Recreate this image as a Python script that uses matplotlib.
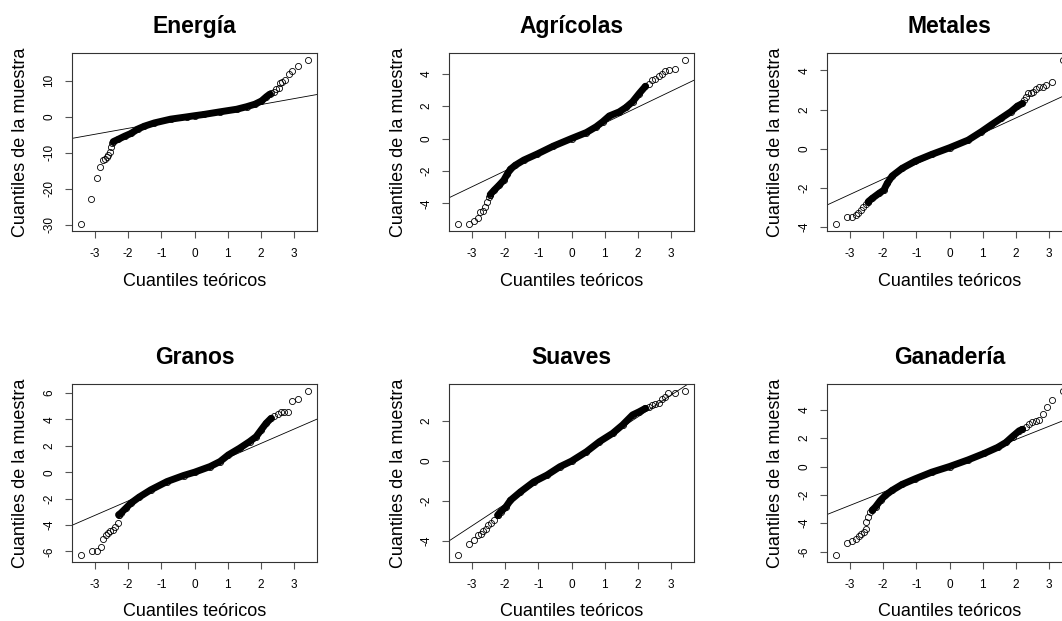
import matplotlib
matplotlib.use("Agg")
import matplotlib.pyplot as plt

plt.rcParams['font.family'] = ['Liberation Sans', 'DejaVu Sans']
plt.rcParams['axes.unicode_minus'] = False

titles = ["Energía", "Agrícolas", "Metales", "Granos", "Suaves", "Ganadería"]

# puntos sueltos de las colas (cuantil teorico, cuantil muestral)
energia_x = [-3.42, -3.11, -2.95, -2.85, -2.77, -2.70, -2.65, -2.60, -2.555, -2.515, -2.48,
             2.32, 2.39, 2.47, 2.54, 2.59, 2.64, 2.72, 2.84, 2.95, 3.12, 3.42]
energia_y = [-29.9, -22.9, -17.0, -13.9, -12.0, -11.8, -11.1, -10.6, -9.7, -8.3, -7.4,
             6.5, 6.9, 7.6, 8.1, 9.3, 9.7, 10.2, 12.0, 12.8, 14.1, 15.9]
agricolas_x = [-3.42, -3.10, -2.93, -2.81, -2.76, -2.66, -2.60, -2.55, -2.50, -2.45,
               2.33, 2.43, 2.53, 2.63, 2.73, 2.83, 2.95, 3.11, 3.42]
agricolas_y = [-5.29, -5.25, -5.09, -4.92, -4.51, -4.45, -4.2, -3.9, -3.59, -3.45,
               3.38, 3.59, 3.69, 3.84, 4.0, 4.16, 4.2, 4.27, 4.86]
metales_x = [-3.42, -3.09, -2.95, -2.83, -2.76, -2.68, -2.60, -2.53, -2.45,
             2.25, 2.30, 2.38, 2.45, 2.53, 2.61, 2.70, 2.81, 2.91, 3.09, 3.42]
metales_y = [-3.86, -3.47, -3.50, -3.38, -3.30, -3.13, -2.96, -2.84, -2.70,
             2.48, 2.65, 2.82, 2.87, 2.91, 3.03, 3.16, 3.16, 3.25, 3.42, 4.55]
granos_x = [-3.42, -3.10, -2.94, -2.82, -2.75, -2.67, -2.60, -2.54, -2.47, -2.39, -2.32, -2.29,
            2.41, 2.51, 2.61, 2.71, 2.83, 2.94, 3.11, 3.42]
granos_y = [-6.31, -5.96, -6.01, -5.68, -5.08, -4.75, -4.62, -4.49, -4.37, -4.12, -3.86, -3.23,
            4.27, 4.39, 4.55, 4.6, 4.6, 5.40, 5.56, 6.19]
suaves_x = [-3.42, -3.08, -2.93, -2.81, -2.73, -2.66, -2.58, -2.51, -2.43, -2.33, -2.23,
            2.33, 2.43, 2.53, 2.63, 2.73, 2.81, 2.91, 3.11, 3.42]
suaves_y = [-4.72, -4.16, -3.96, -3.71, -3.66, -3.49, -3.38, -3.21, -3.09, -2.96, -2.71,
            2.73, 2.81, 2.86, 2.89, 3.09, 3.23, 3.39, 3.43, 3.53]
ganaderia_x = [-3.42, -3.09, -2.93, -2.81, -2.73, -2.66, -2.58, -2.53, -2.51, -2.46, -2.40, -2.33,
               2.20, 2.30, 2.40, 2.50, 2.60, 2.70, 2.82, 2.93, 3.09, 3.42]
ganaderia_y = [-6.27, -5.36, -5.22, -5.13, -4.90, -4.76, -4.59, -4.43, -3.89, -3.54, -3.19, -3.08,
               2.63, 2.80, 2.98, 3.15, 3.22, 3.26, 3.68, 4.22, 4.69, 5.36]

# zona densa
energia_bx = [-2.45, -2.31, -2.11, -1.91, -1.71, -1.51, -1.21, -0.72, -0.22, 0.0, 0.28, 0.78, 1.27, 1.57, 1.82, 2.02, 2.17, 2.27]
energia_by = [-6.9, -6.3, -5.4, -4.6, -3.4, -2.6, -1.7, -0.65, 0.0, 0.3, 0.65, 1.4, 2.1, 2.8, 3.5, 4.4, 5.6, 6.3]
agricolas_bx = [-2.45, -2.33, -2.18, -2.04, -1.94, -1.84, -1.69, -1.44, -1.04, -0.55, 0.0, 0.45, 0.74, 0.94, 1.14, 1.44, 1.64, 1.84, 2.04, 2.23]
agricolas_by = [-3.45, -3.18, -2.87, -2.56, -2.2, -1.89, -1.64, -1.33, -0.96, -0.47, 0.0, 0.37, 0.72, 1.03, 1.39, 1.64, 1.91, 2.26, 2.77, 3.22]
metales_bx = [-2.45, -2.33, -2.13, -1.98, -1.88, -1.73, -1.43, -1.03, -0.54, 0.0, 0.56, 0.96, 1.25, 1.55, 1.85, 2.05, 2.2]
metales_by = [-2.70, -2.53, -2.28, -2.11, -1.77, -1.39, -1.0, -0.63, -0.29, 0.05, 0.44, 0.87, 1.21, 1.55, 1.89, 2.18, 2.31]
granos_bx = [-2.29, -2.22, -2.07, -1.92, -1.67, -1.32, -0.83, -0.33, 0.0, 0.47, 0.77, 1.02, 1.36, 1.66, 1.86, 2.01, 2.16, 2.31]
granos_by = [-3.23, -3.1, -2.73, -2.35, -1.89, -1.34, -0.71, -0.25, 0.0, 0.43, 0.81, 1.31, 1.82, 2.32, 2.7, 3.21, 3.71, 4.09]
suaves_bx = [-2.23, -2.14, -1.99, -1.84, -1.54, -1.14, -0.74, -0.35, 0.0, 0.45, 0.84, 1.24, 1.54, 1.84, 2.04, 2.23]
suaves_by = [-2.71, -2.54, -2.32, -1.96, -1.54, -1.04, -0.70, -0.28, 0.0, 0.47, 0.97, 1.39, 1.81, 2.31, 2.47, 2.64]
ganaderia_bx = [-2.33, -2.23, -2.08, -1.93, -1.73, -1.43, -1.03, -0.54, 0.0, 0.56, 1.05, 1.45, 1.70, 1.90, 2.10, 2.20]
ganaderia_by = [-3.08, -2.84, -2.38, -2.03, -1.68, -1.26, -0.86, -0.40, 0.0, 0.47, 0.93, 1.35, 1.70, 2.12, 2.52, 2.63]

# qqline: intercepto y pendiente
intercepts = [0.1, -0.03, 0.01, 0.0, 0.03, 0.05]
slopes = [1.65, 0.98, 0.78, 1.09, 1.09, 0.93]

yticks = [[-30, -20, -10, 0, 10], [-4, -2, 0, 2, 4], [-4, -2, 0, 2, 4],
          [-6, -4, -2, 0, 2, 4, 6], [-4, -2, 0, 2], [-6, -4, -2, 0, 2, 4]]
xticks = [-3, -2, -1, 0, 1, 2, 3]

pts = [(energia_x, energia_y), (agricolas_x, agricolas_y), (metales_x, metales_y),
       (granos_x, granos_y), (suaves_x, suaves_y), (ganaderia_x, ganaderia_y)]
bands = [(energia_bx, energia_by), (agricolas_bx, agricolas_by), (metales_bx, metales_by),
         (granos_bx, granos_by), (suaves_bx, suaves_by), (ganaderia_bx, ganaderia_by)]

W, H = 1062, 621
fig = plt.figure(figsize=(W / 100, H / 100), dpi=100)

lefts = [72, 449, 827]
bottoms = [231, 562]
aw, ah = 245, 178

for i in range(6):
    r, c = divmod(i, 3)
    ax = fig.add_axes([lefts[c] / W, 1 - bottoms[r] / H, aw / W, ah / H])
    bx, by = bands[i]
    ax.plot(bx, by, color='black', lw=5.0, solid_capstyle='round', solid_joinstyle='round')
    ax.plot(bx, by, 'o', mfc='none', mec='black', ms=4.4, mew=0.6)
    px, py = pts[i]
    ax.plot(px, py, 'o', mfc='none', mec='black', ms=4.4, mew=0.6)
    ax.margins(0.04)
    ax.axline((0, intercepts[i]), slope=slopes[i], color='black', lw=0.6)

    ax.set_xticks(xticks)
    ax.set_yticks(yticks[i])
    ax.tick_params(length=5, width=0.8, labelsize=8.5, pad=7, color='#555555')
    ax.tick_params(axis='y', labelrotation=90)
    for lab in ax.get_yticklabels():
        lab.set_va('center')
    for s in ax.spines.values():
        s.set_linewidth(0.8)
        s.set_color('#333333')

    ax.text(0.5, 1 + 26.5 / ah, titles[i], transform=ax.transAxes, ha='center', va='center',
            fontsize=16.5, fontweight='bold')
    ax.set_xlabel("Cuantiles teóricos", fontsize=13)
    ax.xaxis.set_label_coords(0.5, -50 / ah)
    ax.xaxis.label.set_va('center')
    ax.set_ylabel("Cuantiles de la muestra", fontsize=13)
    ax.yaxis.set_label_coords(-51 / aw, 0.5)
    ax.yaxis.label.set_va('center')

fig.savefig("out.png", dpi=100)
